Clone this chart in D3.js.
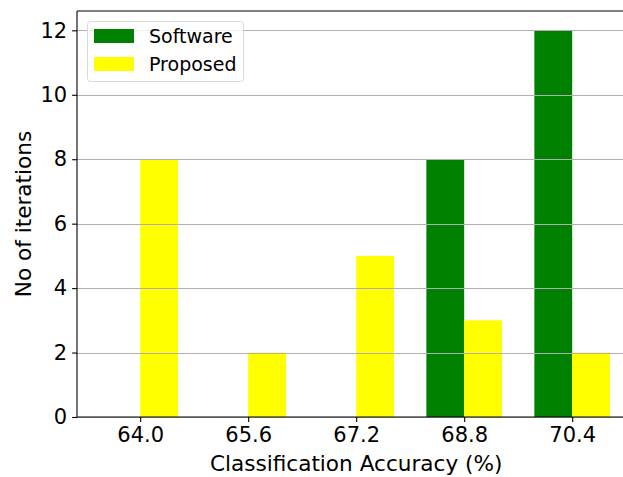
<!DOCTYPE html>
<html>
<head>
<meta charset="utf-8">
<script src="https://cdn.jsdelivr.net/npm/d3@7/dist/d3.min.js"></script>
<style>
  html, body { margin: 0; padding: 0; background: #fff; overflow: hidden; }
  svg { display: block; font-family: "DejaVu Sans", sans-serif; }
</style>
</head>
<body>
<div id="chart"></div>
<script>
// Histogram of classification accuracy: software vs. proposed implementation
const categories = ["64.0", "65.6", "67.2", "68.8", "70.4"];
const softwareValues = [0, 0, 0, 8, 12];
const proposedValues = [8, 2, 5, 3, 2];
const yTicks = [0, 2, 4, 6, 8, 10, 12];
const seriesNames = ["Software", "Proposed"];
const seriesColors = ["#008000", "#ffff00"];

const W = 623, H = 477;
const barWidth = 0.35;

const svg = d3.select("#chart").append("svg")
  .attr("width", W).attr("height", H);

// Plot area: index positions with 5% padding around bar extents
const xMin = -barWidth - 0.235, xMax = categories.length - 1 + barWidth + 0.235;
const x = d3.scaleLinear().domain([xMin, xMax]).range([77, 77 + 108 * (xMax - xMin)]);
const yMax = d3.max([...softwareValues, ...proposedValues]) * 1.05;
const y = d3.scaleLinear().domain([0, yMax]).range([417, 11]);

const series = [softwareValues, proposedValues];
const offsets = [-barWidth, 0];

// Bars
series.forEach((vals, s) => {
  svg.append("g").selectAll("rect")
    .data(vals)
    .join("rect")
    .attr("x", (d, i) => x(i + offsets[s]))
    .attr("width", (d, i) => x(i + offsets[s] + barWidth) - x(i + offsets[s]))
    .attr("y", d => y(d))
    .attr("height", d => y(0) - y(d))
    .attr("fill", seriesColors[s]);
});

// Horizontal grid, drawn above the bars
svg.append("g").selectAll("line")
  .data(yTicks)
  .join("line")
  .attr("x1", x(xMin)).attr("x2", x(xMax))
  .attr("y1", d => Math.round(y(d)) + 0.5).attr("y2", d => Math.round(y(d)) + 0.5)
  .attr("stroke", "#b0b0b0").attr("stroke-width", 1.1);

// Axes
const xAxis = d3.axisBottom(x)
  .tickValues(categories.map((c, i) => i))
  .tickFormat(i => categories[i])
  .tickSize(4.9).tickPadding(4.9);
const yAxis = d3.axisLeft(y)
  .tickValues(yTicks)
  .tickSize(4.9).tickPadding(4.9);

const gx = svg.append("g").attr("transform", `translate(0,${y(0)})`).call(xAxis);
const gy = svg.append("g").attr("transform", `translate(${x(xMin)},0)`).call(yAxis);
[gx, gy].forEach(g => {
  g.select(".domain").remove();
  g.selectAll(".tick line").attr("stroke", "#000").attr("stroke-width", 1.1);
  g.selectAll(".tick text").attr("fill", "#000")
    .style("font-family", "DejaVu Sans").style("font-size", "21px");
});

// Spines: left, bottom, top, right
const sp = svg.append("g").attr("stroke", "#000").attr("stroke-width", 1.1).attr("fill", "none");
sp.append("line").attr("x1", x(xMin)).attr("x2", x(xMin)).attr("y1", y(yMax)).attr("y2", y(0));
sp.append("line").attr("x1", x(xMin)).attr("x2", x(xMax)).attr("y1", y(0)).attr("y2", y(0));
sp.append("line").attr("x1", x(xMin)).attr("x2", x(xMax)).attr("y1", y(yMax)).attr("y2", y(yMax));
sp.append("line").attr("x1", x(xMax)).attr("x2", x(xMax)).attr("y1", y(yMax)).attr("y2", y(0));

// Axis titles
svg.append("text")
  .attr("x", (x(xMin) + x(xMax)) / 2).attr("y", 471)
  .attr("text-anchor", "middle")
  .style("font-size", "21.6px")
  .text("Classification Accuracy (%)");
svg.append("text")
  .attr("transform", `translate(31,${(y(0) + y(yMax)) / 2}) rotate(-90)`)
  .attr("text-anchor", "middle")
  .style("font-size", "21.6px")
  .text("No of iterations");

// Legend
const lg = svg.append("g");
lg.append("rect")
  .attr("x", 87.5).attr("y", 21.5).attr("width", 156).attr("height", 60)
  .attr("rx", 3).attr("fill", "#fff").attr("fill-opacity", 0.8)
  .attr("stroke", "#d9d9d9").attr("stroke-width", 1);
seriesNames.forEach((name, i) => {
  lg.append("rect")
    .attr("x", 94).attr("y", 29 + i * 28).attr("width", 40).attr("height", 14)
    .attr("fill", seriesColors[i]);
  lg.append("text")
    .attr("x", 149).attr("y", 43 + i * 28)
    .style("font-size", "19px")
    .text(name);
});
</script>
</body>
</html>
